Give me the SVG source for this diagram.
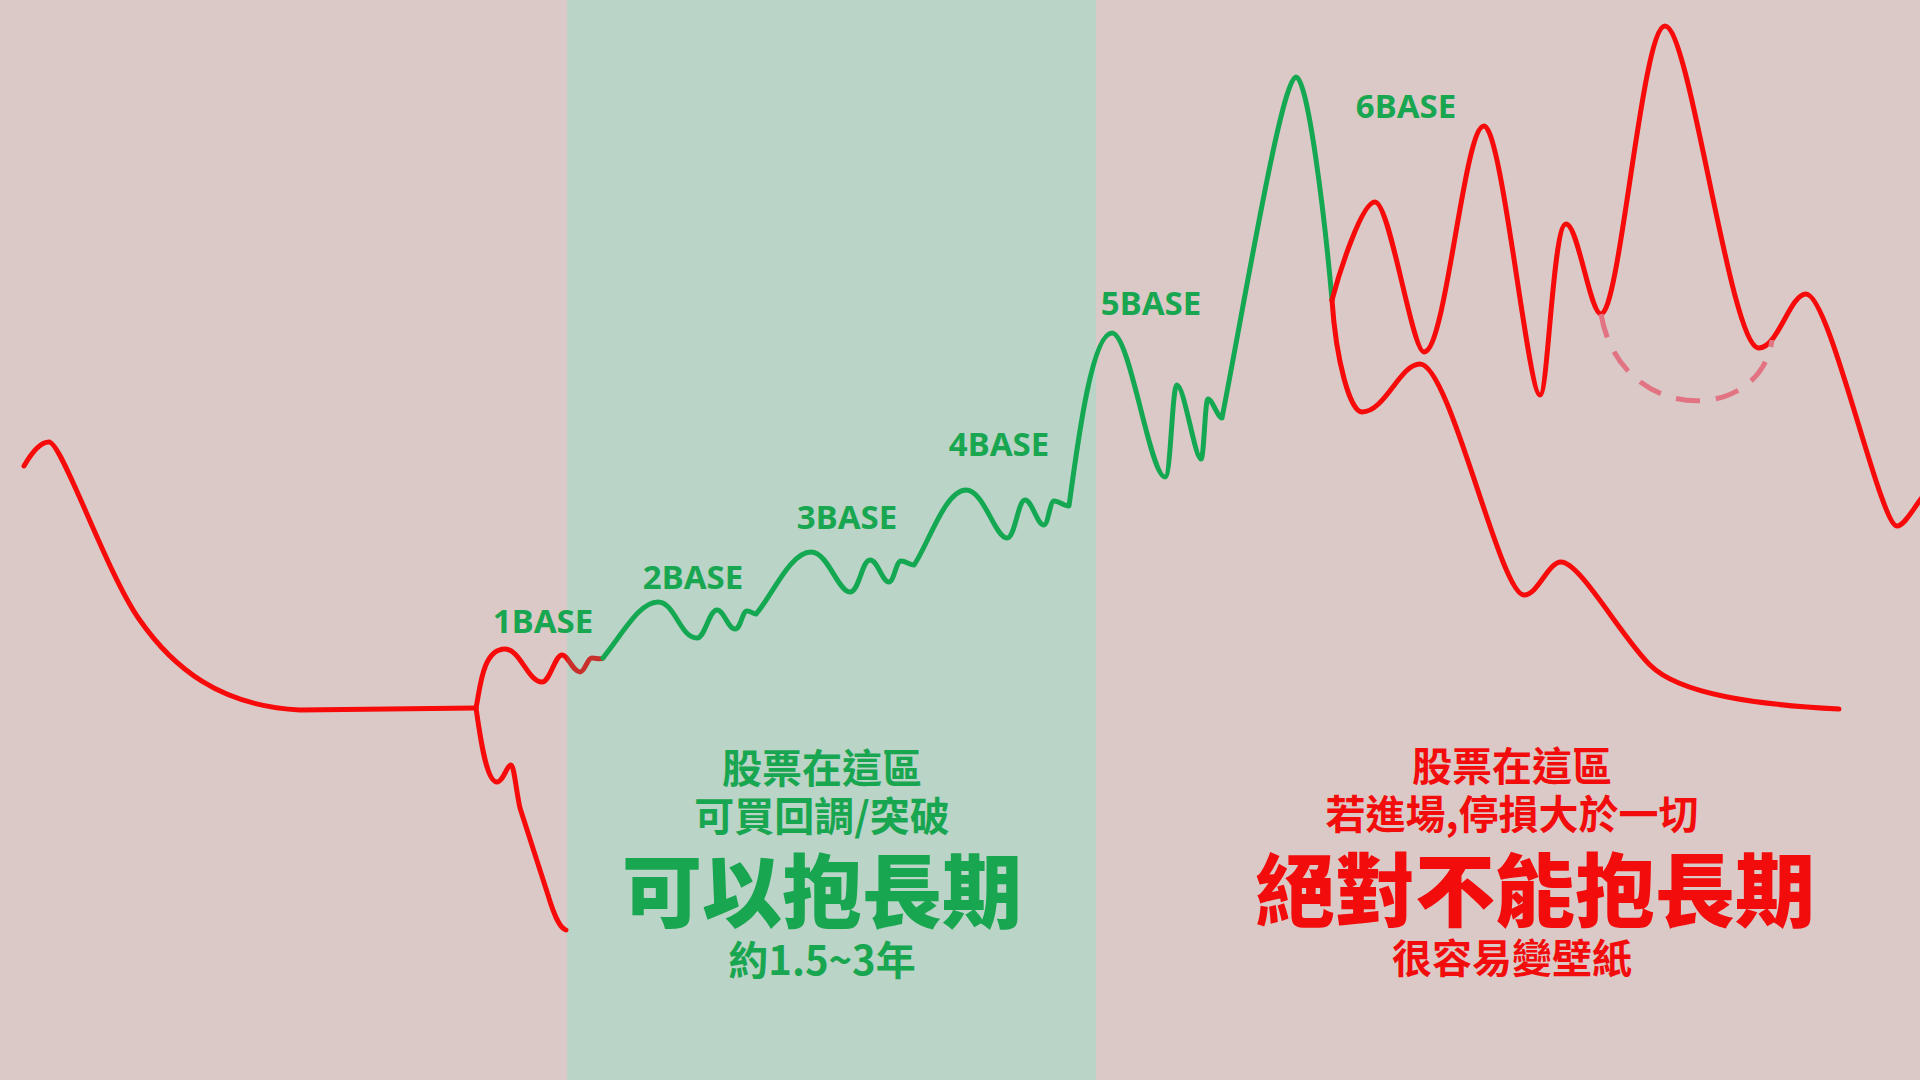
<svg xmlns="http://www.w3.org/2000/svg" width="1920" height="1080" viewBox="0 0 1920 1080">
<style>
.red{fill:none;stroke:#f70a0a;stroke-width:5;stroke-linecap:round;stroke-linejoin:round}
.dark{fill:none;stroke:#c8302c;stroke-width:5;stroke-linecap:round;stroke-linejoin:round}
.grn{fill:none;stroke:#15a852;stroke-width:5;stroke-linecap:round;stroke-linejoin:round}
.dash{fill:none;stroke:#e27383;stroke-width:5;stroke-dasharray:24 16}
.base{font-family:"Noto Sans","Open Sans",sans-serif;font-weight:700;font-size:33px;fill:#19a650;text-anchor:middle}
.cj{font-family:"Noto Sans CJK TC","Noto Sans CJK SC",sans-serif;font-weight:700;text-anchor:middle}
.g{fill:#19a650}
.r{fill:#f20c0c}
.s{font-size:40px}
.b{font-size:80px;font-weight:900}
</style>
<defs>
<clipPath id="outBand"><rect x="0" y="0" width="567" height="1080"/></clipPath>
<clipPath id="inBand"><rect x="567" y="0" width="600" height="1080"/></clipPath>
</defs>
<rect id="background" x="0" y="0" width="1920" height="1080" fill="#dbc9c7"/>
<rect id="green-zone" x="567" y="0" width="529" height="1080" fill="#bad4c7"/>
<g id="connectors">
<path id="red-decline" class="red" d="M24,466 C32,452 40,442 49,442 C62,442 105,570 139,619 C173,668 220,706 300,710 L476,708"/>
<g id="red-base1">
<path class="red" clip-path="url(#outBand)" d="M476,708 C480,690 482,649 505,649 C520,649 528,682 542,682 C550,682 555,655 562,655 C568,655 573,672 580,672 C585,672 587,658 592,658 C597,658 599,660 603,658"/>
<path class="dark" clip-path="url(#inBand)" d="M476,708 C480,690 482,649 505,649 C520,649 528,682 542,682 C550,682 555,655 562,655 C568,655 573,672 580,672 C585,672 587,658 592,658 C597,658 599,660 603,658"/>
</g>
<path id="red-breakdown" class="red" d="M476,708 C480,735 486,782 497,782 C503,782 507,765 511,765 C514,765 516,790 520,808 L548,895 C555,918 560,928 566,930"/>
<path id="green-trend" class="grn" d="M603,658 C625,630 640,602 658,602 C675,602 680,638 697,638 C705,638 709,610 717,610 C724,610 728,629 735,629 C741,629 742,611 747,611 C751,611 753,614 756,614 C772,596 790,552 811,552 C828,552 838,592 850,592 C859,592 862,560 870,560 C878,560 882,582 889,582 C894,582 896,561 901,561 C906,561 910,565 914,565 C928,545 945,490 966,490 C984,490 995,538 1007,538 C1015,538 1018,500 1025,500 C1032,500 1037,525 1044,525 C1048,525 1050,501 1054,501 C1059,501 1064,506 1069,506 C1078,440 1092,333 1112,333 C1130,333 1150,477 1165,477 C1171,477 1172,385 1177,385 C1184,385 1195,459 1201,459 C1204,459 1205,399 1208,399 C1212,399 1218,418 1222,418 C1245,300 1282,77 1296,77 C1308,77 1325,220 1332,300"/>
<path id="red-upper" class="red" d="M1332,300 C1340,270 1362,202 1375,202 C1390,202 1412,352 1424,352 C1446,352 1464,126 1484,126 C1502,126 1528,395 1540,395 C1548,395 1553,224 1566,224 C1578,224 1590,314 1601,314 C1620,314 1642,26 1665,26 C1690,26 1730,348 1759,348 C1778,348 1790,294 1806,294 C1830,294 1880,526 1897,526 C1905,526 1915,505 1925,494"/>
<path id="red-lower" class="red" d="M1332,300 C1336,360 1350,412 1362,412 C1385,412 1400,364 1420,364 C1450,364 1500,595 1524,595 C1538,595 1548,562 1561,562 C1580,562 1620,635 1650,665 C1680,695 1760,705 1839,709"/>
<path id="dashed-base" class="dash" d="M1601,314 C1620,425 1760,425 1772,340"/>
</g>
<g id="label-1base"><text class="base" x="543" y="633">1BASE</text></g>
<g id="label-2base"><text class="base" x="693" y="589">2BASE</text></g>
<g id="label-3base"><text class="base" x="847" y="529">3BASE</text></g>
<g id="label-4base"><text class="base" x="999" y="456">4BASE</text></g>
<g id="label-5base"><text class="base" x="1151" y="315">5BASE</text></g>
<g id="label-6base"><text class="base" x="1406" y="118">6BASE</text></g>
<g id="green-note">
<text class="cj g s" x="822" y="783">股票在這區</text>
<text class="cj g s" x="822" y="831">可買回調/突破</text>
<text class="cj g b" x="822" y="921">可以抱長期</text>
<text class="cj g s" x="822" y="975">約1.5~3年</text>
</g>
<g id="red-note">
<text class="cj r s" x="1512" y="781">股票在這區</text>
<text class="cj r s" x="1512" y="829">若進場,停損大於一切</text>
<text class="cj r b" x="1535" y="920">絕對不能抱長期</text>
<text class="cj r s" x="1512" y="973">很容易變壁紙</text>
</g>
</svg>
